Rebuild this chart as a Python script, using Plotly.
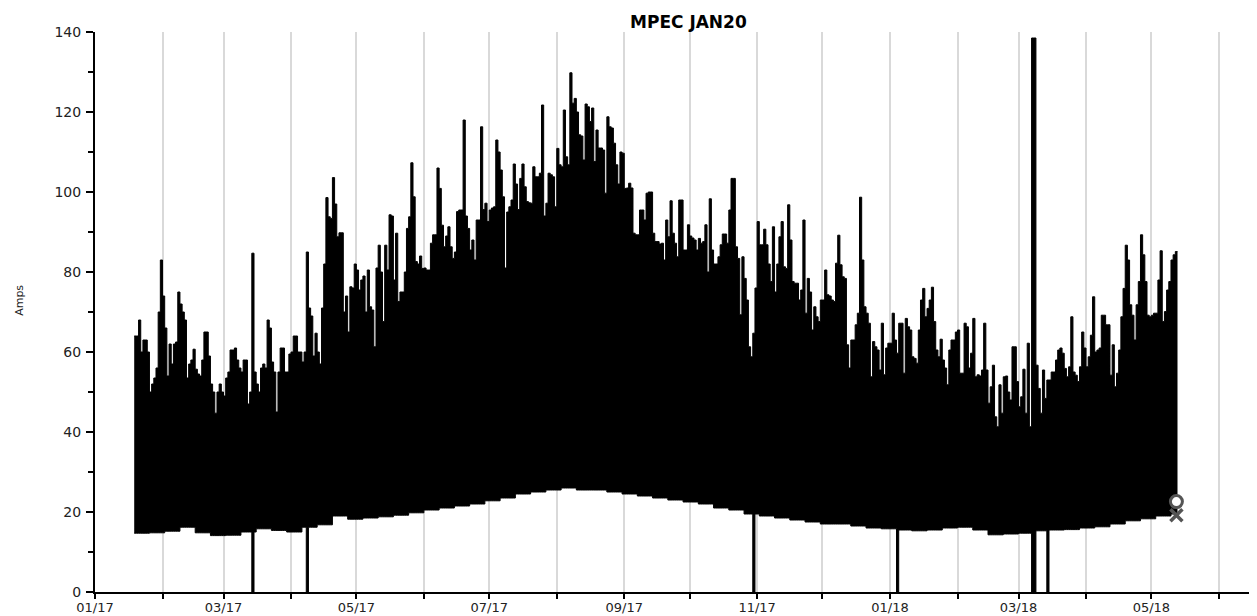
import pandas as pd
import plotly.graph_objects as go

title = "MPEC JAN20"
y_label = "Amps"
start_day = "2017-01-19"

# daily peak current (Amps), one value per day starting at start_day
daily_high = [
    64, 64, 68, 60, 63, 63, 60, 50, 52, 53.5, 56, 70, 83, 74,
    66, 54, 62, 57, 62, 62.5, 75, 72, 70, 68, 53.5, 57, 58, 60.7, 55.7, 54.5, 54, 58,
    65, 65, 59, 52, 50, 44.7, 50, 52, 50, 49, 53.5, 55, 60.5, 60.5, 61, 58, 56, 55, 58,
    58, 47, 50, 84.7, 55, 52, 50, 56, 57, 56, 68, 66, 57.5, 55, 45, 55, 61, 61, 55, 55, 59.5, 60, 64, 64, 60, 60, 57.5, 60, 85,
    71, 69, 59, 64.7, 60, 57, 71, 82, 98.6, 93.8, 93.4, 103.6, 97, 88.8, 89.8, 89.8, 70, 74, 65, 76.3, 76, 82, 80.5, 75.5, 78, 79, 70, 80.5, 71.3, 70.5, 61.3, 81, 86.7,
    80, 67.6, 86.7, 80.5, 94.3, 94, 78, 89.7, 72.6, 75, 75, 80, 90.9, 93.8, 107.3, 98.8, 82.6, 82, 84, 80.9, 81, 80.5, 80.5, 87.2, 89.3, 89.3, 106, 100.9, 91.7, 86.3, 89, 91.3, 86.3, 83.4, 85,
    95.1, 95.5, 95.5, 118, 94, 90.9, 85.5, 88, 83, 93, 93, 116.3, 95.6, 97.2, 92.6, 95.5, 96, 96.3, 113, 110, 105.5, 98.8, 81, 95, 96.3, 98, 107, 102, 95.6, 103.4, 107, 101.3, 97.6, 97.3,
    97.2, 106.3, 103.8, 103.8, 104.7, 121.75, 94, 97.2, 104.7, 104.3, 103.8, 96.3, 110.9, 106.8, 106.3, 120.5, 108.8, 106.8, 129.8, 122.2, 123.4, 120, 114.3, 114, 108, 122, 121.3, 117.6, 121, 107.6, 115.5, 111, 111, 110.5, 99.7,
    118.8, 116.3, 116, 112.2, 106.8, 102, 110, 109.7, 100.9, 101, 102.2, 101, 89.7, 89.3, 89.3, 95.5, 95.5, 93, 99.7, 100, 100, 89.7, 87.6, 87.6, 87, 87.2, 83, 93, 88.8, 97.8, 89.7, 87.2,
    83.8, 98, 98, 85.5, 85.5, 91.8, 89, 88.5, 88, 85.5, 88.4, 87.2, 87.6, 91.8, 80, 98.3, 85.5, 82, 82, 83.8, 86.8, 89.5, 89.5, 87.2, 95.5, 103.4, 103.4, 86.3, 83.4, 69.3, 83.8, 78.4, 73, 61.3, 58.8, 64.7,
    76, 92.6, 86.8, 86.8, 90.7, 86.8, 82, 77.6, 91.3, 75, 82, 88.8, 92.6, 81.3, 80.9, 96.8, 88, 77.6, 77.2, 77.2, 73, 75.5, 93, 69.7, 78.4, 75, 65.5, 71.3, 68.8, 67.6, 73, 73, 80.5, 74.3, 74, 73,
    72.6, 82.2, 89.2, 81.8, 78.8, 78.4, 61.8, 56, 63, 63, 66.8, 69.7, 98.7, 83, 71.3, 69.7, 67.2, 53.8, 62.6, 61.3, 60.5, 55.5, 67.2, 54.3,
    61, 62.2, 62.2, 69.7, 63, 59.7, 67.2, 67.2, 54.7, 68.4, 66.3, 65.5, 58.8, 58.4, 57.2, 65.5, 73, 75.9, 68.8, 70.9, 73, 76.2, 67.6, 60.5, 58.8, 63.2, 58, 56, 51.8, 60.5, 63, 63, 65, 65.5, 54.7,
    54.7, 67.2, 66.3, 56, 59.7, 68.4, 53.8, 54.3, 54, 55.5, 67.2, 55.5, 47.2, 51.3, 56.7, 43.8, 41.3, 51.8, 44.7, 53.8, 54, 50, 48, 61.3, 61.3, 52.6, 46.3, 48.8, 55.7, 44.7, 62.2, 41.3,
    138.5, 138.5, 56.7, 50.9, 44.7, 55.5, 48.4, 53, 53, 55, 55, 58, 60.5, 61, 59.7, 55.9, 53.8, 56.3, 68.8, 55, 54.2, 52.6, 56.3, 65, 61, 56.3, 58.8, 64.2, 73.8, 60, 60.5, 61, 69.2,
    69.2, 66.8, 66.8, 54.2, 61.8, 51.3, 54.7, 60.5, 68.8, 75.9, 86.7, 83, 71.8, 69.2, 63, 71.8, 77.6, 89.3, 84.3, 77.6, 69.2, 68.8, 69.2, 69.7, 69.7, 78, 85.3, 67.6, 70.1, 75.5, 77.6, 83, 84.3, 85.1,
]

# weekly minimum current (Amps), one value per week starting at start_day
weekly_low = [
    14.7, 14.8, 15.2, 16.2, 14.8, 14.1, 14.2, 15, 15.8, 15.4, 15, 16.2, 16.8, 19,
    18.2, 18.5, 18.8, 19.2, 19.8, 20.5, 21, 21.5, 22, 22.8, 23.5, 24.5, 25, 25.5,
    26, 25.5, 25.5, 25, 24.5, 24, 23.5, 23, 22.5, 22, 21, 20.5, 19.5, 19, 18.5,
    18, 17.5, 17, 17, 16.5, 16, 15.8, 15.5, 15.3, 15.5, 16, 16.2, 15.5, 14.3,
    14.5, 14.7, 15.3, 15.5, 15.6, 16, 16.3, 17, 17.8, 18.3, 19, 19.5,
]

# days where the meter dropped to zero
dropout_days = ["2017-03-14", "2017-04-08", "2017-10-30", "2018-01-04",
                "2018-03-07", "2018-03-08", "2018-03-14"]

# last reading marker
last_pin_value = 22.6
last_cross_value = 19.2

days = pd.date_range(start_day, periods=len(daily_high), freq="D")
drop_set = set(pd.to_datetime(dropout_days))
lows = []
for i, d in enumerate(days):
    lo = weekly_low[min(i // 7, len(weekly_low) - 1)]
    lows.append(0 if d in drop_set else lo)

# step outlines (each day's value held until the next day)
step_x = list(days) + [days[-1] + pd.Timedelta(days=1)]
step_high = list(daily_high) + [daily_high[-1]]
step_low = lows + [lows[-1]]
last_center = days[-1] + pd.Timedelta(hours=12)

fig = go.Figure()
fig.add_trace(go.Scatter(
    x=step_x, y=step_low, mode="lines", line=dict(shape="hv", width=1, color="black"),
    hoverinfo="skip",
))
fig.add_trace(go.Scatter(
    x=step_x, y=step_high, mode="lines", line=dict(shape="hv", width=1, color="black"),
    fill="tonexty", fillcolor="black", hoverinfo="skip",
))
fig.add_trace(go.Scatter(
    x=[last_center], y=[last_cross_value], mode="markers",
    marker=dict(symbol="x-thin", size=12, line=dict(width=3.5, color="#555555")),
    hoverinfo="skip",
))
fig.add_trace(go.Scatter(
    x=[last_center], y=[last_pin_value], mode="markers",
    marker=dict(symbol="circle", size=12, color="white", line=dict(width=3, color="#555555")),
    hoverinfo="skip",
))

# the page body has an 8px default margin, so the figure is sized to fit inside it
fig.update_layout(
    width=1249, height=608,
    margin=dict(l=87, r=0, t=24, b=24, autoexpand=False),
    plot_bgcolor="white", paper_bgcolor="white",
    showlegend=False,
    font=dict(family="DejaVu Sans", size=14, color="#222222"),
)
fig.update_xaxes(
    type="date", range=["2017-01-01", "2018-06-18 12:00"], automargin=False,
    tickformat="%m/%y", dtick="M2", tick0="2017-01-01",
    tickfont=dict(size=13), ticklabelstandoff=-3,
    ticks="outside", ticklen=5, tickwidth=2, tickcolor="black",
    showline=True, linecolor="black", linewidth=2,
    showgrid=True, gridcolor="#d9d9d9", gridwidth=2, zeroline=False,
    minor=dict(dtick="M1", tick0="2017-01-01", ticks="outside", ticklen=5, tickwidth=2,
               tickcolor="black", showgrid=True, gridcolor="#d9d9d9", gridwidth=2),
)
fig.update_yaxes(
    range=[0, 140], dtick=20, automargin=False,
    ticks="outside", ticklen=7, tickwidth=2, tickcolor="black", ticklabelstandoff=2,
    showline=True, linecolor="black", linewidth=2, showgrid=False, zeroline=False,
    minor=dict(dtick=10, ticks="outside", ticklen=5, tickwidth=2, tickcolor="black", showgrid=False),
)
fig.add_annotation(text="<b>" + title + "</b>", xref="paper", yref="paper",
                   x=0.511, y=1.018, xanchor="center", yanchor="middle", showarrow=False,
                   font=dict(family="DejaVu Sans", size=17, color="black"))
fig.add_annotation(text=y_label, xref="paper", yref="paper", x=-0.0645, y=0.52,
                   xanchor="center", yanchor="middle", textangle=-90, showarrow=False,
                   font=dict(family="DejaVu Sans", size=11, color="#222222"))

fig.write_html("out.html")
